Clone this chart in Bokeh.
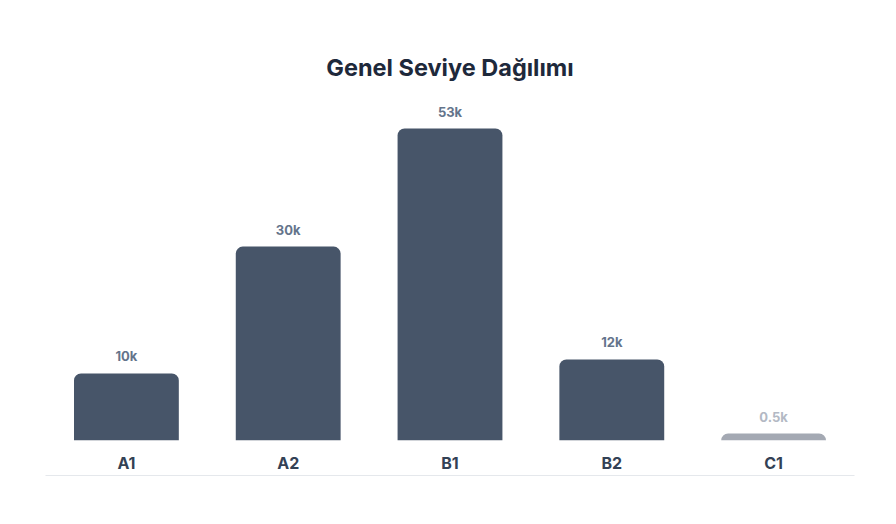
from bokeh.plotting import figure
from bokeh.models import Range1d, FixedTicker, LinearAxis, ColumnDataSource
from bokeh.core.properties import value
from bokeh.embed import file_html
from bokeh.resources import INLINE

# data
levels = ["A1", "A2", "B1", "B2", "C1"]
bar_heights = [10.47, 30.3, 48.75, 12.66, 1.09]   # visual bar heights
value_labels = ["10k", "30k", "53k", "12k", "0.5k"]
bar_colors = ["#475569", "#475569", "#475569", "#475569", "#a4a9b3"]
label_colors = ["#64748b", "#64748b", "#64748b", "#64748b", "#b3b9c4"]
title_text = "Genel Seviye Dağılımı"

idx = list(range(len(levels)))
src = ColumnDataSource(dict(x=idx, top=bar_heights, lab=value_labels,
                            color=bar_colors, lcolor=label_colors))

p = figure(width=880, height=508, output_backend="svg", toolbar_location=None,
           x_range=Range1d(-0.5, len(levels) - 0.5), y_range=Range1d(0, 53.125),
           min_border_left=45, min_border_right=26, min_border_top=100, min_border_bottom=68)
p.outline_line_color = None
p.background_fill_color = "white"
p.border_fill_color = "white"
p.grid.visible = False
p.yaxis.visible = False

p.title.text = title_text
p.title.align = "center"
p.title.text_font = "Inter"
p.title.text_font_size = "23.5px"
p.title.text_font_style = "bold"
p.title.text_color = "#1e293b"
p.title.standoff = 38

p.vbar(x="x", top="top", bottom=0, width=0.648, fill_color="color", line_color=None,
       border_radius=(7, 7, 0, 0), source=src)

p.text(x="x", y="top", text="lab", text_color="lcolor", text_align="center",
       text_baseline="middle", y_offset=-17, text_font=value("Inter"),
       text_font_size="13px", text_font_style="bold", source=src)

xa = p.xaxis[0]
xa.ticker = FixedTicker(ticks=idx)
xa.major_label_overrides = {i: l for i, l in zip(idx, levels)}
xa.major_label_text_font = "Inter"
xa.major_label_text_font_size = "16px"
xa.major_label_text_font_style = "bold"
xa.major_label_text_color = "#334155"
xa.major_label_standoff = 6
xa.major_tick_line_color = None
xa.minor_tick_line_color = None
xa.axis_line_color = None

base = LinearAxis(ticker=FixedTicker(ticks=[]), axis_line_color="#e5e8ec", axis_line_width=1.2,
                  major_tick_line_color=None, minor_tick_line_color=None,
                  major_label_text_font_size="0px")
p.add_layout(base, "below")

open("out.html", "w").write(file_html(p, INLINE))
